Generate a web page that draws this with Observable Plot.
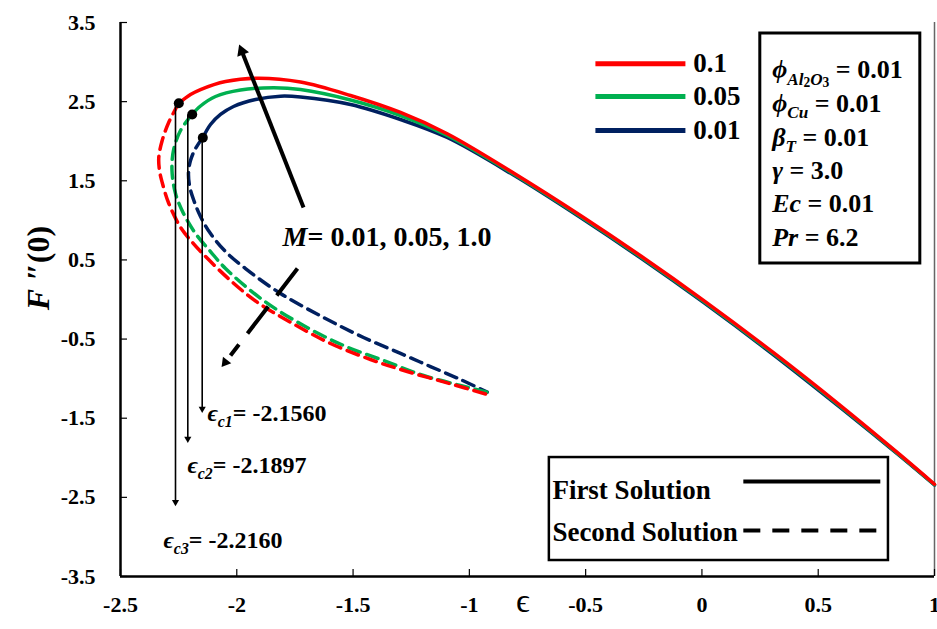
<!DOCTYPE html>
<html><head><meta charset="utf-8">
<script src="https://cdn.jsdelivr.net/npm/d3@7"></script>
<script src="https://cdn.jsdelivr.net/npm/@observablehq/plot@0.6"></script>
<style>
body{margin:0;background:#fff}
#chart{width:937px;height:629px}
#chart svg, #chart svg text, #chart svg tspan{font-family:"Liberation Serif","DejaVu Serif","Noto Serif","Times New Roman",Times,serif !important;}
</style>
</head><body><div id="chart"></div>
<script>
// ---------- data ----------
const seriesNames = ["0.1", "0.05", "0.01"];
const seriesColors = ["#ff0000", "#00b050", "#002060"];

// first solution (solid)
const first_x_01  = [-2.2493, -2.1990, -2.1560, -2.0485, -1.9109, -1.7260, -1.5110, -1.2961, -1.0952, -0.8100, -0.5220, -0.2641, 0.0068, 0.3078, 0.5958, 0.8538, 1.0];
const first_y_01  = [ 2.480,   2.590,   2.653,   2.755,   2.796,   2.748,   2.578,   2.363,   2.094,   1.598,   1.061,   0.552, -0.011, -0.672, -1.340, -1.967, -2.334];
const first_x_005 = [-2.1917, -2.1560, -2.0915, -1.9840, -1.8421, -1.7260, -1.5110, -1.2961, -1.0952, -0.8100, -0.5220, -0.2641, 0.0068, 0.3078, 0.5958, 0.8538, 1.0];
const first_y_005 = [ 2.338,   2.445,   2.565,   2.647,   2.675,   2.653,   2.521,   2.325,   2.072,   1.585,   1.048,   0.539, -0.024, -0.685, -1.353, -1.975, -2.339];
const first_x_001 = [-2.1461, -2.1130, -2.0700, -2.0141, -1.9195, -1.8120, -1.7260, -1.5110, -1.2961, -1.0952, -0.8100, -0.5220, -0.2641, 0.0068, 0.3078, 0.5958, 0.8538, 1.0];
const first_y_001 = [ 2.043,   2.211,   2.338,   2.439,   2.527,   2.569,   2.559,   2.464,   2.274,   2.047,   1.572,   1.035,   0.526, -0.037, -0.698, -1.366, -1.983, -2.344];

// second solution (dashed)
const second_x_01  = [-2.2493, -2.2923, -2.3207, -2.3353, -2.3323, -2.3207, -2.2923, -2.2420, -2.1917, -2.1431, -2.0270, -1.9122, -1.7690, -1.5970, -1.4250, -1.2672, -1.0810, -0.9233];
const second_y_01  = [ 2.480,   2.240,   2.009,   1.798,   1.630,   1.478,   1.213,   0.913,   0.724,   0.569,   0.240,  -0.034,  -0.287,  -0.556,  -0.758,  -0.910,  -1.065,  -1.200];
const second_x_005 = [-2.1917, -2.2420, -2.2721, -2.2786, -2.2635, -2.2291, -2.1775, -2.1130, -2.0485, -1.8851, -1.7131, -1.5411, -1.3692, -1.1972, -1.0381, -0.9233];
const second_y_005 = [ 2.338,   2.135,   1.883,   1.630,   1.339,   1.087,   0.834,   0.606,   0.392,  -0.013,  -0.329,  -0.581,  -0.771,  -0.960,  -1.087,  -1.171];
const second_x_001 = [-2.1461, -2.1775, -2.1990, -2.2076, -2.2033, -2.1861, -2.1560, -2.1130, -2.0485, -1.9625, -1.8120, -1.6271, -1.4551, -1.2961, -1.1671, -1.0381, -0.9233];
const second_y_001 = [ 2.043,   1.908,   1.756,   1.605,   1.440,   1.263,   1.048,   0.833,   0.606,   0.391,   0.076,  -0.227,  -0.480,  -0.682,  -0.847,  -1.011,  -1.171];

// axes
const xTicks = [-2.5, -2, -1.5, -1, -0.5, 0, 0.5, 1];
const xTickLabels = ["-2.5", "-2", "-1.5", "-1", "-0.5", "0", "0.5", "1"];
const yTicks = [-3.5, -2.5, -1.5, -0.5, 0.5, 1.5, 2.5, 3.5];
const yTickLabels = ["-3.5", "-2.5", "-1.5", "-0.5", "0.5", "1.5", "2.5", "3.5"];
const xLabel = "ϵ";
const yLabel = "*F* ″(0)";

// critical points
const critX = [-2.2493, -2.1917, -2.1461];
const critY = [2.480, 2.338, 2.043];
const critArrowX = [-2.2635, -2.2106, -2.1487];
const critArrowTipY = [-2.624, -1.823, -1.444];
const critLabels = ["*ϵ*_{*c3*}= -2.2160", "*ϵ*_{*c2*}= -2.1897", "*ϵ*_{*c1*}= -2.1560"];
const critLabelX = [-2.315, -2.212, -2.126];
const critLabelY = [-3.045, -2.098, -1.440];

// M annotation
const mLabel = "*M*= 0.01, 0.05, 1.0";
const mLabelPos = [-1.803, 0.783];
const upArrowTail = [-1.713, 1.162];
const upArrowTip = [-1.993, 3.247];
const downArrowTail = [-1.739, 0.392];
const downArrowLineEnd = [-2.027, -0.708];
const downArrowTip = [-2.070, -0.872];

// legend (M values)
const legLineX = [-0.458, -0.071];
const legY = [2.978, 2.565, 2.135];
const legTextX = -0.037;

// parameter box
const paramBox = {x1: 0.251, x2: 0.939, y1: 3.361, y2: 0.455};
const paramLines = ["*ϕ*_{*Al*_{2}*O*_{3}} = 0.01", "*ϕ*_{*Cu*} = 0.01", "*β*_{*T*} = 0.01", "*γ* = 3.0", "*Ec* = 0.01", "*Pr* = 6.2"];
const paramX = 0.302;
const paramY = [2.900, 2.473, 2.051, 1.630, 1.209, 0.787];

// solution-type legend
const solBox = {x1: -0.656, x2: 0.802, y1: -1.997, y2: -3.298};
const solLabels = ["First Solution", "Second Solution"];
const solTextX = -0.643;
const solTextY = [-2.414, -2.944];
const solLineX = [0.178, 0.767];
const solLineY = [-2.300, -2.919];

// ---------- build ----------
const W = 937, H = 629, mL = 120, mR = 3, mT = 22, mB = 53;
const pxX = (W - mL - mR) / 3.5, pxY = (H - mT - mB) / 7;

function rowsOf(xs, ys, name, kind) {
  return xs.map((x, i) => ({x, y: ys[i], name, key: name + kind}));
}
const firstRows = [
  ...rowsOf(first_x_001, first_y_001, "0.01", "f"),
  ...rowsOf(first_x_005, first_y_005, "0.05", "f"),
  ...rowsOf(first_x_01, first_y_01, "0.1", "f")
];
const secondRows = [
  ...rowsOf(second_x_001, second_y_001, "0.01", "s"),
  ...rowsOf(second_x_005, second_y_005, "0.05", "s"),
  ...rowsOf(second_x_01, second_y_01, "0.1", "s")
];

function head(tail, tip, back) {
  const vx = (tip[0] - tail[0]) * pxX, vy = -(tip[1] - tail[1]) * pxY;
  const L = Math.hypot(vx, vy), ux = vx / L, uy = vy / L;
  return {x: tip[0] - ux * back / pxX, y: tip[1] + uy * back / pxY, rot: Math.atan2(ux, -uy) * 180 / Math.PI};
}
const smallHeads = critArrowX.map((x, i) => head([x, critY[i]], [x, critArrowTipY[i]], 5.0));
const bigHead = head(upArrowTail, upArrowTip, 9.3);
const dashHead = head(downArrowTail, downArrowTip, 7.8);

const font = "Liberation Serif, DejaVu Serif, Noto Serif, serif";
const T = {fontFamily: font, fontWeight: "bold", fill: "#000"};

const plot = Plot.plot({
  width: W, height: H,
  marginLeft: mL, marginRight: mR, marginTop: mT, marginBottom: mB,
  style: {fontFamily: font, fontWeight: "bold", background: "#fff", overflow: "visible"},
  x: {domain: [-2.5, 1], axis: null},
  y: {domain: [-3.5, 3.5], axis: null},
  color: {domain: seriesNames, range: seriesColors},
  marks: [
    Plot.ruleX([1], {stroke: "#666", strokeWidth: 1.5}),
    Plot.axisX(xTicks, {tickSize: 0, tickPadding: 20, tickFormat: d => xTickLabels[xTicks.indexOf(d)], fontSize: 22, ...T}),
    Plot.axisY(yTicks, {tickSize: 0, tickPadding: 25, tickFormat: d => yTickLabels[yTicks.indexOf(d)], fontSize: 22, ...T}),
    Plot.ruleX(xTicks, {x: d => d, y1: -3.5, y2: -3.5 + 7 / pxY, stroke: "#000", strokeWidth: 1.2}),
    Plot.ruleY(yTicks, {y: d => d, x1: -2.5, x2: -2.5 + 7 / pxX, stroke: "#000", strokeWidth: 1.2}),
    Plot.ruleX([-2.5], {stroke: "#000", strokeWidth: 2.5}),
    Plot.ruleY([-3.5], {stroke: "#000", strokeWidth: 2.5}),
    Plot.text([xLabel], {x: -0.77, y: -3.5, dy: 25, text: d => d, fontSize: 34, ...T, fontWeight: "normal"}),
    Plot.text([yLabel], {x: -2.5, y: 0.398, dx: -82, rotate: -90, text: d => d, fontSize: 32, ...T}),
    Plot.line(secondRows, {x: "x", y: "y", z: "key", stroke: "name", strokeWidth: 3.5, strokeDasharray: "12,7", curve: "catmull-rom"}),
    Plot.line(firstRows, {x: "x", y: "y", z: "key", stroke: "name", strokeWidth: 3.5, curve: "catmull-rom"}),
    Plot.link(critArrowX, {x1: d => d, x2: d => d, y1: (d, i) => critY[i], y2: (d, i) => smallHeads[i].y, stroke: "#000", strokeWidth: 1.6}),
    Plot.dot(smallHeads, {x: "x", y: "y", rotate: "rot", symbol: "triangle2", r: 3.4, fill: "#000"}),
    Plot.dot(critX, {x: d => d, y: (d, i) => critY[i], r: 5, fill: "#000"}),
    Plot.text(critLabels, {x: (d, i) => critLabelX[i], y: (d, i) => critLabelY[i], text: d => d, textAnchor: "start", fontSize: 24, ...T}),
    Plot.link([0], {x1: upArrowTail[0], y1: upArrowTail[1], x2: bigHead.x, y2: bigHead.y, stroke: "#000", strokeWidth: 4}),
    Plot.dot([bigHead], {x: "x", y: "y", rotate: "rot", symbol: "triangle2", r: 6, fill: "#000"}),
    Plot.link([0], {x1: downArrowTail[0], y1: downArrowTail[1], x2: downArrowLineEnd[0], y2: downArrowLineEnd[1], stroke: "#000", strokeWidth: 4, strokeDasharray: "34,14"}),
    Plot.dot([dashHead], {x: "x", y: "y", rotate: "rot", symbol: "triangle2", r: 5, fill: "#000"}),
    Plot.text([mLabel], {x: mLabelPos[0], y: mLabelPos[1], text: d => d, textAnchor: "start", fontSize: 28, ...T}),
    Plot.link(seriesNames, {x1: legLineX[0], x2: legLineX[1], y1: (d, i) => legY[i], y2: (d, i) => legY[i], stroke: d => d, strokeWidth: 5}),
    Plot.text(seriesNames, {x: legTextX, y: (d, i) => legY[i], text: d => d, textAnchor: "start", fontSize: 27, ...T}),
    Plot.rect([paramBox], {x1: "x1", x2: "x2", y1: "y1", y2: "y2", fill: "#fff", stroke: "#000", strokeWidth: 3}),
    Plot.text(paramLines, {x: paramX, y: (d, i) => paramY[i], text: d => d, textAnchor: "start", fontSize: 26, ...T}),
    Plot.rect([solBox], {x1: "x1", x2: "x2", y1: "y1", y2: "y2", fill: "#fff", stroke: "#000", strokeWidth: 2.5}),
    Plot.text(solLabels, {x: solTextX, y: (d, i) => solTextY[i], text: d => d, textAnchor: "start", fontSize: 27, ...T}),
    Plot.link([solLabels[0]], {x1: solLineX[0], x2: solLineX[1], y1: solLineY[0], y2: solLineY[0], stroke: "#000", strokeWidth: 4}),
    Plot.link([solLabels[1]], {x1: solLineX[0], x2: solLineX[1], y1: solLineY[1], y2: solLineY[1], stroke: "#000", strokeWidth: 4, strokeDasharray: "17,12"})
  ]
});
document.getElementById("chart").appendChild(plot);

// rich text: *italic*, _{subscript}
function richify(svg) {
  d3.select(svg).selectAll("text").each(function () {
    const el = this;
    if (el.querySelector("tspan")) return;
    const s = el.textContent;
    if (!/[*]|_\{/.test(s)) return;
    const fs = parseFloat(getComputedStyle(el).fontSize) || 16;
    const runs = [];
    let it = false, lvl = 0, buf = "";
    const flush = () => { if (buf) { runs.push({t: buf, it, lvl}); buf = ""; } };
    for (let i = 0; i < s.length; i++) {
      const c = s[i];
      if (c === "*") { flush(); it = !it; }
      else if (c === "_" && s[i + 1] === "{") { flush(); lvl++; i++; }
      else if (c === "}" && lvl > 0) { flush(); lvl--; }
      else buf += c;
    }
    flush();
    el.textContent = "";
    const off = l => (l === 0 ? 0 : l === 1 ? 0.24 * fs : 0.34 * fs);
    const size = l => fs * (l === 0 ? 1 : l === 1 ? 0.66 : 0.52);
    let prev = 0;
    for (const r of runs) {
      const t = document.createElementNS("http://www.w3.org/2000/svg", "tspan");
      t.textContent = r.t;
      if (r.it) t.setAttribute("font-style", "italic");
      t.setAttribute("font-size", size(r.lvl).toFixed(2) + "px");
      const dy = off(r.lvl) - off(prev);
      if (Math.abs(dy) > 0.01) t.setAttribute("dy", dy.toFixed(2));
      prev = r.lvl;
      el.appendChild(t);
    }
  });
}
richify(plot);
</script></body></html>
